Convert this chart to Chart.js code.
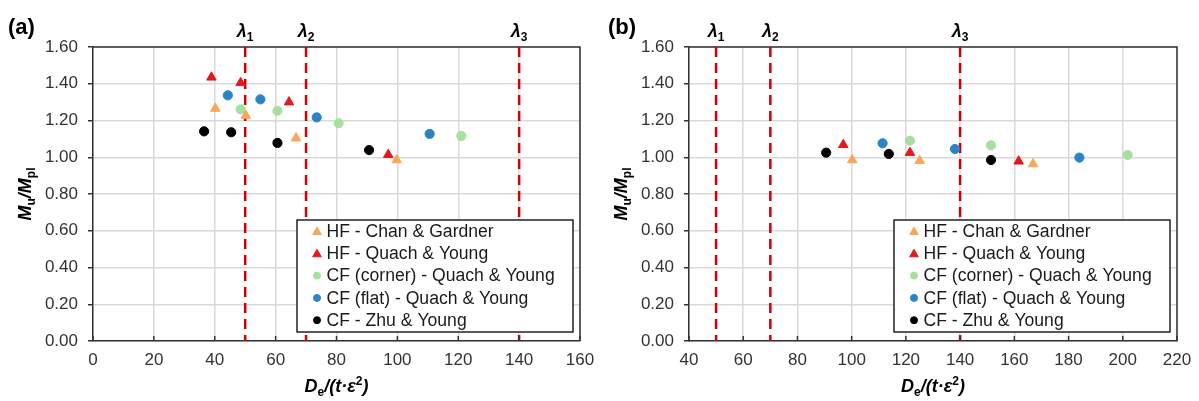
<!DOCTYPE html>
<html>
<head>
<meta charset="utf-8">
<script src="https://cdn.jsdelivr.net/npm/chart.js@4.4.1/dist/chart.umd.min.js"></script>
<style>
  body { margin: 0; background: #fff; }
  #wrap { position: relative; width: 1199px; height: 401px; }
  canvas { position: absolute; top: 0; }
  #chartA { left: 0; }
  #chartB { left: 600px; }
</style>
</head>
<body>
<div id="wrap">
  <canvas id="chartA" width="600" height="401"></canvas>
  <canvas id="chartB" width="599" height="401"></canvas>
</div>
<script>
// series names (legend order)
const seriesNames = [
  'HF - Chan & Gardner',
  'HF - Quach & Young',
  'CF (corner) - Quach & Young',
  'CF (flat) - Quach & Young',
  'CF - Zhu & Young',
];

// slenderness limits
const lambdaValues = [50, 70, 140];
const lambdaSubs = ['1', '2', '3'];

// panel (a): [De/(t·eps^2), Mu/Mpl]
const chanGardnerA = [[40.2, 1.265], [50.2, 1.227], [66.7, 1.104], [99.8, 0.985]];
const quachHFA     = [[38.9, 1.435], [48.5, 1.405], [64.4, 1.300], [97.0, 1.014]];
const cornerA      = [[48.5, 1.261], [60.6, 1.253], [80.7, 1.185], [121.0, 1.116]];
const flatA        = [[44.3, 1.337], [55.0, 1.315], [73.5, 1.217], [110.6, 1.127]];
const zhuA         = [[36.5, 1.141], [45.4, 1.136], [60.6, 1.078], [90.7, 1.039]];

// panel (b)
const chanGardnerB = [[100.2, 0.985], [125.1, 0.981], [166.9, 0.963]];
const quachHFB     = [[96.9, 1.068], [121.5, 1.025], [161.6, 0.978]];
const cornerB      = [[121.5, 1.090], [151.4, 1.065], [201.8, 1.012]];
const flatB        = [[111.4, 1.076], [138.1, 1.045], [184.0, 0.998]];
const zhuB         = [[90.6, 1.025], [113.7, 1.018], [151.4, 0.985]];

const yMin = 0, yMax = 1.6, yStep = 0.2;

const FONT = 'Arial, "Liberation Sans", sans-serif';
const markerStyle = [
  { color: '#f9a65a', shape: 'triangle' },
  { color: '#e3191c', shape: 'triangle' },
  { color: '#a8dea0', shape: 'circle' },
  { color: '#2b84c3', shape: 'circle' },
  { color: '#000000', shape: 'circle' },
];

function toPoints(arr) {
  return arr.map(p => ({ x: p[0], y: p[1] }));
}

function rich(ctx, parts, cx, cy) {
  let total = 0;
  parts.forEach(p => {
    ctx.font = p.f;
    p.w = ctx.measureText(p.t).width;
    total += p.w;
  });
  let x = cx - total / 2;
  parts.forEach(p => {
    ctx.font = p.f;
    ctx.fillText(p.t, x, cy + (p.dy || 0));
    x += p.w;
  });
}

const overlay = {
  id: 'overlay',
  beforeDatasetsDraw(chart) {
    const { ctx, chartArea: ca } = chart;
    ctx.save();
    ctx.strokeStyle = '#333';
    ctx.lineWidth = 1.5;
    ctx.beginPath();
    ctx.moveTo(ca.left, ca.top);
    ctx.lineTo(ca.right, ca.top);
    ctx.lineTo(ca.right, ca.bottom);
    ctx.stroke();
    ctx.restore();
  },
  afterDraw(chart) {
    const { ctx, chartArea: ca, scales } = chart;
    const o = chart.options.plugins.overlay;
    ctx.save();

    // legend box
    const w = 276, h = 112;
    const left = ca.right - 7 - w, top = ca.bottom - 9 - h;
    ctx.fillStyle = '#fff';
    ctx.fillRect(left, top, w, h);
    ctx.strokeStyle = '#222';
    ctx.lineWidth = 1.5;
    ctx.strokeRect(left, top, w, h);

    // inside tick marks on x axis
    ctx.strokeStyle = '#333';
    ctx.lineWidth = 1.5;
    scales.x.ticks.forEach(t => {
      const px = scales.x.getPixelForValue(t.value);
      ctx.beginPath();
      ctx.moveTo(px, ca.bottom);
      ctx.lineTo(px, ca.bottom - 5);
      ctx.stroke();
    });

    ctx.textBaseline = 'middle';
    ctx.textAlign = 'left';
    chart.data.datasets.filter(d => d.inLegend).forEach((d, i) => {
      const y = top + 11 + i * 22.3;
      ctx.fillStyle = d.backgroundColor;
      ctx.strokeStyle = d.borderColor;
      ctx.lineWidth = 1;
      Chart.helpers.drawPoint(ctx, {
        pointStyle: d.pointStyle,
        radius: d.pointStyle === 'triangle' ? 5 : 3.5,
        borderWidth: 1,
        rotation: 0,
      }, left + 20, y + (d.pointStyle === 'triangle' ? 1 : 0));
      ctx.fillStyle = '#1a1a1a';
      ctx.font = '17.6px ' + FONT;
      ctx.fillText(d.label, left + 29.5, y + 1);
    });

    ctx.fillStyle = '#000';
    ctx.textBaseline = 'alphabetic';

    // lambda labels
    lambdaValues.forEach((v, i) => {
      const px = scales.x.getPixelForValue(v);
      rich(ctx, [
        { t: 'λ', f: 'bold italic 18px ' + FONT },
        { t: lambdaSubs[i], f: 'bold 12px ' + FONT, dy: 4 },
      ], px, 36.5);
    });

    // panel label
    ctx.font = 'bold 22px ' + FONT;
    ctx.fillText(o.panel, 8, 34);

    // x title
    const cx = (ca.left + ca.right) / 2;
    rich(ctx, [
      { t: 'D', f: 'bold italic 18px ' + FONT },
      { t: 'e', f: 'bold 12px ' + FONT, dy: 4 },
      { t: '/(', f: 'bold italic 18px ' + FONT },
      { t: 't·ε', f: 'bold italic 18px ' + FONT },
      { t: '2', f: 'bold 12px ' + FONT, dy: -7 },
      { t: ')', f: 'bold italic 18px ' + FONT },
    ], cx, 392);

    // y title
    ctx.translate(ca.left - 62, (ca.top + ca.bottom) / 2);
    ctx.rotate(-Math.PI / 2);
    rich(ctx, [
      { t: 'M', f: 'bold italic 18px ' + FONT },
      { t: 'u', f: 'bold 12px ' + FONT, dy: 4 },
      { t: '/', f: 'bold italic 18px ' + FONT },
      { t: 'M', f: 'bold italic 18px ' + FONT },
      { t: 'pl', f: 'bold 12px ' + FONT, dy: 4 },
    ], 0, 0);

    ctx.restore();
  }
};

function buildChart(id, series, xMin, xMax, leftW, padRight, panel) {
  const datasets = series.map((s, i) => ({
    label: seriesNames[i],
    data: toPoints(s),
    pointStyle: markerStyle[i].shape,
    pointRadius: markerStyle[i].shape === 'triangle' ? 5.5 : 4.6,
    backgroundColor: markerStyle[i].color,
    borderColor: markerStyle[i].color,
    borderWidth: 1,
    inLegend: true,
    order: 1,
  }));
  lambdaValues.forEach(v => {
    datasets.push({
      label: 'lambda',
      data: [{ x: v, y: yMax }, { x: v, y: yMin }],
      showLine: true,
      borderColor: '#d40000',
      borderWidth: 2.5,
      borderDash: [10, 6],
      pointRadius: 0,
      order: 5,
    });
  });

  return new Chart(document.getElementById(id), {
    type: 'scatter',
    data: { datasets },
    options: {
      responsive: false,
      animation: false,
      devicePixelRatio: 1,
      layout: { padding: { top: 47, right: padRight, left: 0, bottom: 0 } },
      plugins: {
        legend: { display: false },
        tooltip: { enabled: false },
        overlay: { panel },
      },
      scales: {
        x: {
          type: 'linear',
          min: xMin,
          max: xMax,
          ticks: { stepSize: 20, padding: 9, color: '#333', font: { family: FONT, size: 17 } },
          grid: { color: '#d9d9d9', lineWidth: 1.5, drawTicks: false },
          border: { color: '#333', width: 1.5 },
          afterFit(scale) {
            scale.height = 60;
            scale.paddingLeft = 0;
            scale.paddingRight = 0;
          },
        },
        y: {
          min: yMin,
          max: yMax,
          ticks: {
            stepSize: yStep,
            padding: 10,
            color: '#333',
            font: { family: FONT, size: 17 },
            callback: v => v.toFixed(2),
          },
          grid: { color: '#d9d9d9', lineWidth: 1.5, tickLength: 5, tickColor: '#333' },
          border: { color: '#333', width: 1.5 },
          afterFit(scale) { scale.width = leftW; },
        },
      },
    },
    plugins: [overlay],
  });
}

buildChart('chartA', [chanGardnerA, quachHFA, cornerA, flatA, zhuA], 0, 160, 93, 20, '(a)');
buildChart('chartB', [chanGardnerB, quachHFB, cornerB, flatB, zhuB], 40, 220, 89, 22, '(b)');
</script>
</body>
</html>
